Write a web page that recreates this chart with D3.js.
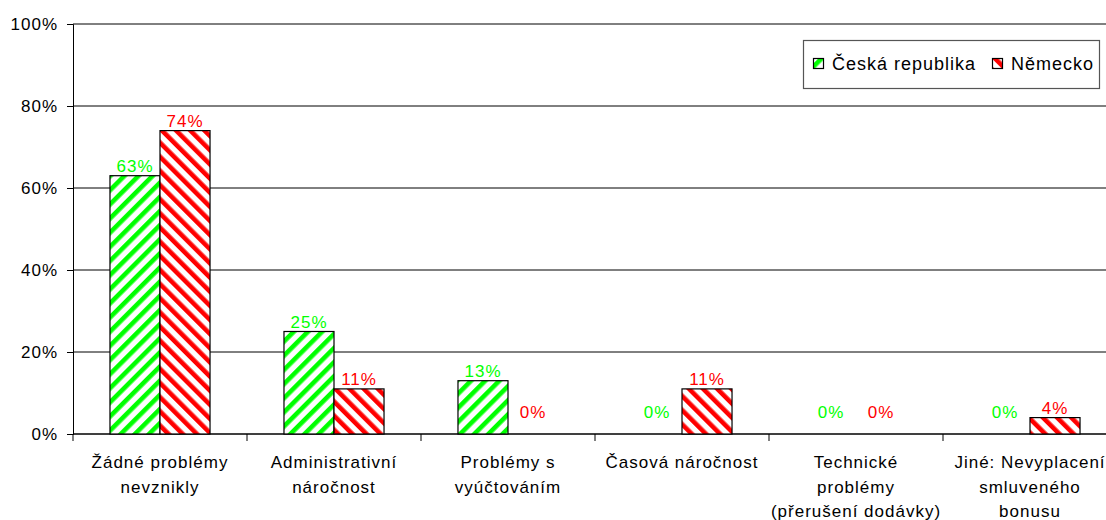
<!DOCTYPE html>
<html>
<head>
<meta charset="utf-8">
<script src="https://cdn.jsdelivr.net/npm/d3@7"></script>
<style>
  html, body { margin: 0; padding: 0; background: #fff; }
  svg { display: block; font-family: "Liberation Sans", Arial, sans-serif; }
</style>
</head>
<body>
<svg id="chart" width="1106" height="520"></svg>
<script>
// Kategorie problémů (víceřádkové popisky)
const categories = [
  ["Žádné problémy", "nevznikly"],
  ["Administrativní", "náročnost"],
  ["Problémy s", "vyúčtováním"],
  ["Časová náročnost"],
  ["Technické", "problémy", "(přerušení dodávky)"],
  ["Jiné: Nevyplacení", "smluveného", "bonusu"]
];
const seriesNames = ["Česká republika", "Německo"];
const valuesCZ = [0.63, 0.25, 0.13, 0.00, 0.00, 0.00];
const valuesDE = [0.74, 0.11, 0.00, 0.11, 0.00, 0.04];
const yTicks = [0, 0.2, 0.4, 0.6, 0.8, 1.0];
const yTickLabels = ["0%", "20%", "40%", "60%", "80%", "100%"];

const seriesColors = ["#00ff00", "#ff0000"];
const svg = d3.select("#chart");

const plot = { left: 73, right: 1117, top: 24, bottom: 434 };

const x = d3.scaleBand()
  .domain(d3.range(categories.length))
  .range([plot.left, plot.right])
  .paddingInner(0.425)
  .paddingOuter(0.2125);
const xs = d3.scaleBand().domain([0, 1]).range([0, x.bandwidth()]);
const y = d3.scaleLinear().domain([0, 1]).range([plot.bottom, plot.top]);

// Šrafování výplní
const defs = svg.append("defs");
[["hatchCZ", 45, seriesColors[0]], ["hatchDE", -45, seriesColors[1]]].forEach(([id, ang, col]) => {
  const p = defs.append("pattern")
    .attr("id", id)
    .attr("patternUnits", "userSpaceOnUse")
    .attr("width", 10).attr("height", 10)
    .attr("patternTransform", `rotate(${ang})`);
  p.append("rect").attr("width", 10).attr("height", 10).attr("fill", "#fff");
  p.append("rect").attr("width", 4.6).attr("height", 10).attr("fill", col);
});
const fills = ["url(#hatchCZ)", "url(#hatchDE)"];

// Mřížka
svg.append("g").selectAll("line").data(yTicks).join("line")
  .attr("x1", plot.left).attr("x2", plot.right)
  .attr("y1", d => y(d)).attr("y2", d => y(d))
  .attr("stroke", "#000").attr("stroke-width", 1);

// Osa Y
const yAxis = d3.axisLeft(y).tickValues(yTicks)
  .tickFormat((d, i) => yTickLabels[i]).tickSize(6).tickPadding(9);
const gy = svg.append("g").attr("transform", `translate(${plot.left},0)`).call(yAxis);
gy.select(".domain").attr("stroke", "#000");
gy.selectAll(".tick line").attr("stroke", "#000");
gy.selectAll(".tick text")
  .attr("font-family", "Liberation Sans, Arial, sans-serif")
  .attr("font-size", 17).attr("letter-spacing", 1).attr("fill", "#000");

// Osa X – značky na hranicích kategorií
const step = x.step();
const bounds = d3.range(categories.length + 1).map(i => plot.left + i * step);
svg.append("line")
  .attr("x1", plot.left).attr("x2", plot.right)
  .attr("y1", y(0)).attr("y2", y(0)).attr("stroke", "#000");
svg.append("g").selectAll("line").data(bounds).join("line")
  .attr("x1", d => d).attr("x2", d => d)
  .attr("y1", y(0)).attr("y2", y(0) + 7)
  .attr("stroke", "#000");

// Popisky kategorií
const catG = svg.append("g")
  .attr("font-size", 17).attr("letter-spacing", 1).attr("fill", "#000")
  .attr("text-anchor", "middle");
categories.forEach((lines, i) => {
  const cx = x(i) + x.bandwidth() / 2;
  const t = catG.append("text").attr("x", cx).attr("y", 468);
  lines.forEach((ln, j) => {
    t.append("tspan").attr("x", cx).attr("y", 468 + j * 24.5).text(ln);
  });
});

// Sloupce a popisky hodnot
const series = [valuesCZ, valuesDE];
series.forEach((vals, s) => {
  const g = svg.append("g");
  vals.forEach((v, i) => {
    const bx = x(i) + xs(s);
    if (v > 0) {
      g.append("rect")
        .attr("x", bx).attr("y", y(v))
        .attr("width", xs.bandwidth()).attr("height", y(0) - y(v))
        .attr("fill", fills[s]).attr("stroke", "#000").attr("stroke-width", 1.2);
    }
    g.append("text")
      .attr("x", bx + xs.bandwidth() / 2)
      .attr("y", v > 0 ? y(v) - 4 : y(0) - 16)
      .attr("text-anchor", "middle")
      .attr("font-size", 17).attr("letter-spacing", 1)
      .attr("fill", seriesColors[s])
      .text(d3.format(".0%")(v));
  });
});

// Legenda
const lg = svg.append("g");
lg.append("rect").attr("x", 803.5).attr("y", 40.5).attr("width", 296).attr("height", 48)
  .attr("fill", "#fff").attr("stroke", "#555").attr("stroke-width", 1.2);
const legendX = [813, 992];
seriesNames.forEach((name, s) => {
  lg.append("rect").attr("x", legendX[s] + 0.5).attr("y", 58.5).attr("width", 10).attr("height", 10)
    .attr("fill", fills[s]).attr("stroke", "#000").attr("stroke-width", 1.2);
  lg.append("text").attr("x", legendX[s] + 19).attr("y", 70)
    .attr("font-size", 18).attr("letter-spacing", 1).attr("fill", "#000")
    .text(name);
});
</script>
</body>
</html>
